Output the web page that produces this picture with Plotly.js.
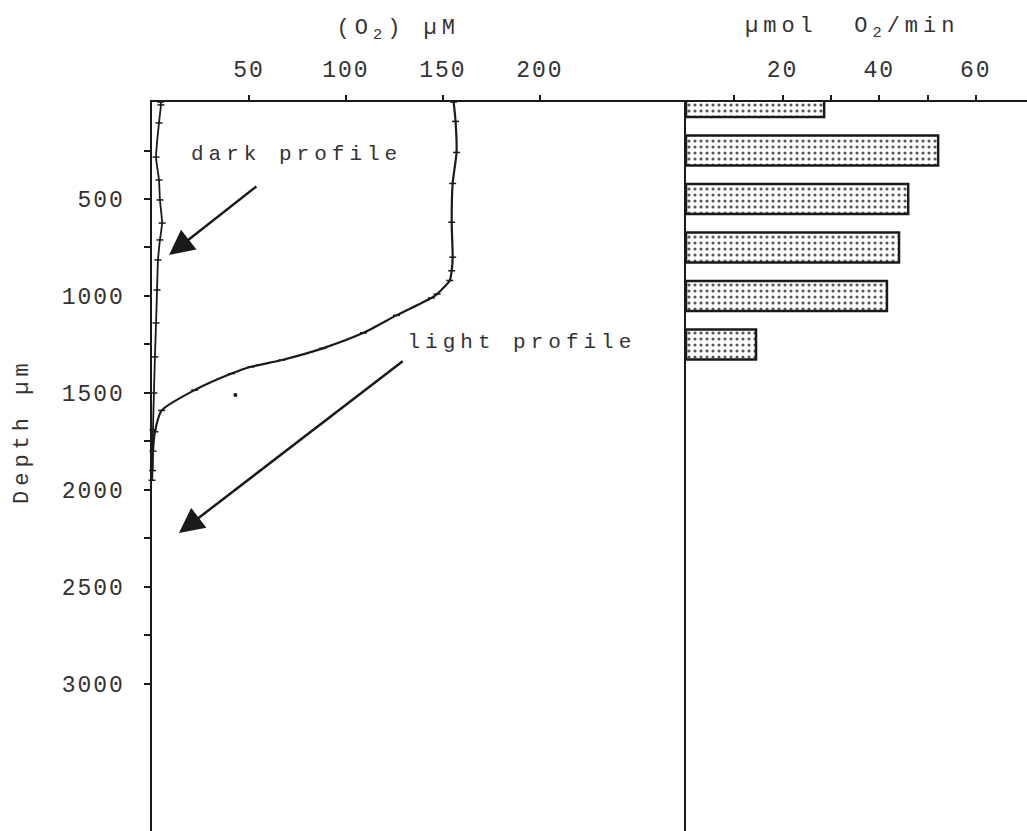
<!DOCTYPE html>
<html>
<head>
<meta charset="utf-8">
<script src="https://cdn.plot.ly/plotly-3.0.1.min.js"></script>
<style>
html, body { margin: 0; padding: 0; background: #fff; }
#plot { width: 1027px; height: 831px; }
#plot .xtick text, #plot .ytick text, #plot .x2tick text { letter-spacing: 2px; }
#plot .annotation-text { letter-spacing: 5px; }
</style>
</head>
<body>
<div id="plot"></div>
<script>
// Light O2 profile (depth µm, O2 µM)
const lightDepth = [0, 100, 260, 420, 620, 800, 870, 920, 990, 1010, 1100, 1190, 1270, 1330, 1365, 1400, 1485, 1590, 1700, 1800, 1950];
const lightO2    = [155.5, 156.5, 157, 155, 154.5, 155, 154.5, 153.5, 147, 144, 126, 109, 88, 67, 51, 41, 22, 5, 1.5, 0.5, 0];

// Dark O2 profile
const darkDepth = [0, 15, 108, 284, 402, 505, 624, 711, 814, 969, 1139, 1314, 1500, 1690, 1900];
const darkO2    = [4.4, 4.6, 3.6, 2.1, 3.6, 4.1, 5.2, 4.1, 3.1, 2.6, 2.1, 1.5, 1.0, 0.5, 0.3];

// Stray point
const strayDepth = [1510];
const strayO2 = [43];

// O2 consumption rate per depth layer (µmol O2/min)
const rateDepth = [0, 250, 500, 750, 1000, 1250];
const rateValue = [28.6, 52.2, 46.0, 44.1, 41.6, 14.5];

// Tick labels
const depthTicks = [500, 1000, 1500, 2000, 2500, 3000];
const depthLabels = ['500', '1000', '1500', '2000', '2500', '3000'];
const depthMinor = [250, 750, 1250, 1750, 2250, 2750];
const o2Ticks = [50, 100, 150, 200];
const o2Labels = ['50', '100', '150', '200'];
const rateTicks = [20, 40, 60];
const rateLabels = ['20', '40', '60'];
const rateMinor = [10, 30, 50];

const FONT = 'Liberation Mono, DejaVu Sans Mono, monospace';
const INK = '#1a1a1a';
const TXT = '#333';

const profileMarker = { symbol: 'line-ew', size: 5, color: INK, line: { color: INK, width: 1.5 } };

const traces = [
  {
    x: lightO2, y: lightDepth, type: 'scatter', mode: 'lines+markers',
    name: 'light profile', line: { color: INK, width: 2.2, shape: 'spline', smoothing: 0.6 },
    marker: profileMarker, xaxis: 'x', yaxis: 'y', cliponaxis: false
  },
  {
    x: darkO2, y: darkDepth, type: 'scatter', mode: 'lines+markers',
    name: 'dark profile', line: { color: INK, width: 1.8, shape: 'spline', smoothing: 0.6 },
    marker: profileMarker, xaxis: 'x', yaxis: 'y', cliponaxis: false
  },
  {
    x: strayO2, y: strayDepth, type: 'scatter', mode: 'markers', name: 'point',
    marker: { size: 4, color: INK }, xaxis: 'x', yaxis: 'y'
  },
  {
    x: rateValue, y: rateDepth, type: 'bar', orientation: 'h', width: 155,
    name: 'rate', xaxis: 'x2', yaxis: 'y2',
    marker: {
      color: 'white',
      line: { color: INK, width: 2.5 },
      pattern: { shape: '.', fgcolor: '#555', bgcolor: 'white', size: 6, solidity: 0.22 }
    }
  }
];

const yRange = [3758, 0];

const layout = {
  width: 1027, height: 831,
  margin: { l: 152, r: 0, t: 102, b: 0 },
  paper_bgcolor: 'white', plot_bgcolor: 'white',
  showlegend: false,
  font: { family: FONT, color: INK, size: 22 },
  xaxis: {
    domain: [0, 0.6103], range: [0, 275.3], side: 'top', anchor: 'y',
    tickvals: o2Ticks, ticktext: o2Labels, ticks: 'outside', ticklen: 5, tickwidth: 2, tickcolor: INK,
    showline: true, linewidth: 2.5, linecolor: INK, showgrid: false, zeroline: false,
    tickfont: { family: FONT, size: 23, color: TXT }, ticklabelstandoff: 8
  },
  xaxis2: {
    domain: [0.6103, 1], range: [0, 70.6], side: 'top', anchor: 'y2',
    tickvals: rateTicks, ticktext: rateLabels, ticks: 'outside', ticklen: 5, tickwidth: 2, tickcolor: INK,
    minor: { tickvals: rateMinor, ticks: 'outside', ticklen: 5, tickwidth: 2, tickcolor: INK, showgrid: false },
    showline: true, linewidth: 2.5, linecolor: INK, showgrid: false, zeroline: false,
    tickfont: { family: FONT, size: 23, color: TXT }, ticklabelstandoff: 8
  },
  yaxis: {
    range: yRange, anchor: 'x',
    tickvals: depthTicks, ticktext: depthLabels, ticks: 'outside', ticklen: 6, tickwidth: 2, tickcolor: INK,
    minor: { tickvals: depthMinor, ticks: 'outside', ticklen: 6, tickwidth: 2, tickcolor: INK, showgrid: false },
    showline: true, linewidth: 2.5, linecolor: INK, showgrid: false, zeroline: false,
    tickfont: { family: FONT, size: 23, color: TXT }, ticklabelstandoff: 14
  },
  yaxis2: {
    range: yRange, anchor: 'x2', matches: 'y',
    showticklabels: false, ticks: '',
    showline: true, linewidth: 2.5, linecolor: INK, showgrid: false, zeroline: false
  },
  annotations: [
    // dark profile label with its arrow (text centred at the arrow's start)
    { x: 8.8, y: 789, ax: 74.5, ay: 273, xref: 'x', yref: 'y', axref: 'x', ayref: 'y',
      text: 'dark profile', font: { family: FONT, size: 21, color: TXT },
      showarrow: true, arrowhead: 2, arrowsize: 2, arrowwidth: 2.5, arrowcolor: INK,
      standoff: 0, startstandoff: 30 },
    { x: 13.9, y: 2222, ax: 130, ay: 1330, xref: 'x', yref: 'y', axref: 'x', ayref: 'y',
      text: '', showarrow: true, arrowhead: 2, arrowsize: 2, arrowwidth: 2.5, arrowcolor: INK, standoff: 0 },
    { x: 190.5, y: 1242, xref: 'x', yref: 'y', xanchor: 'center', yanchor: 'middle', showarrow: false,
      text: 'light profile', font: { family: FONT, size: 21, color: TXT } },
    { x: 0.281, y: 1.099, xref: 'paper', yref: 'paper', xanchor: 'center', yanchor: 'middle', showarrow: false,
      text: '(O<sub>2</sub>) µM', font: { family: FONT, size: 22, color: TXT } },
    { x: 0.8, y: 1.1015, xref: 'paper', yref: 'paper', xanchor: 'center', yanchor: 'middle', showarrow: false,
      text: 'µmol\u00a0 O<sub>2</sub>/min', font: { family: FONT, size: 22, color: TXT } },
    { x: -0.1474, y: 0.5487, xref: 'paper', yref: 'paper', xanchor: 'center', yanchor: 'middle', showarrow: false,
      textangle: -90, text: 'Depth µm', font: { family: FONT, size: 22, color: TXT } }
  ]
};

Plotly.newPlot('plot', traces, layout, { staticPlot: true, displayModeBar: false });
</script>
</body>
</html>
